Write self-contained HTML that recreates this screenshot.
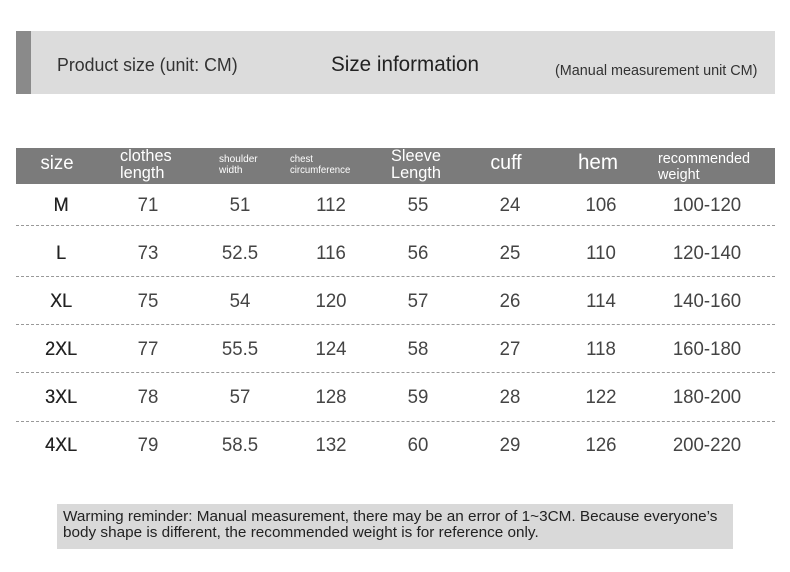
<!DOCTYPE html>
<html><head><style>
body{margin:0;width:790px;height:572px;background:#fff;position:relative;overflow:hidden;font-family:"Liberation Sans",sans-serif;color:#333}
.a{position:absolute;white-space:nowrap}
.c{transform:translateX(-50%) scaleX(0.98);}
.l{transform-origin:0 0;transform:scaleX(0.96)}
.d{font-size:19px;color:#444}
.s{font-size:19px;color:#222;transform:translateX(-50%) scaleX(0.95);text-shadow:0.3px 0 0 #222}
.h{color:#fff}
.line{position:absolute;left:16px;width:759px;border-top:1px dashed #999;height:0}
</style></head><body>
<div class="a" style="left:16px;top:31px;width:759px;height:63px;background:#dcdcdc"></div>
<div class="a" style="left:16px;top:31px;width:15px;height:63px;background:#8a8a8a"></div>
<div class="a l" style="left:57px;top:54px;font-size:18.5px;color:#333">Product size (unit: CM)</div>
<div class="a l" style="left:331px;top:52px;font-size:21.5px;color:#222">Size information</div>
<div class="a l" style="left:555px;top:62px;font-size:15px;color:#333">(Manual measurement unit CM)</div>

<div class="a" style="left:16px;top:148px;width:759px;height:36px;background:#7b7b7b"></div>
<div class="a h c" style="left:57px;top:153px;font-size:19px">size</div>
<div class="a h l" style="left:120px;top:147px;font-size:17px;line-height:17px">clothes<br>length</div>
<div class="a h l" style="left:219px;top:154px;font-size:10.5px;line-height:11px">shoulder<br>width</div>
<div class="a h l" style="left:290px;top:154px;font-size:10px;line-height:11px">chest<br>circumference</div>
<div class="a h l" style="left:391px;top:147px;font-size:17px;line-height:17px">Sleeve<br>Length</div>
<div class="a h c" style="left:506px;top:152px;font-size:20px">cuff</div>
<div class="a h c" style="left:598px;top:151px;font-size:21px">hem</div>
<div class="a h l" style="left:658px;top:151px;font-size:15px;line-height:16px">recommended<br>weight</div>

<div class="line" style="top:225px"></div>
<div class="line" style="top:276px"></div>
<div class="line" style="top:324px"></div>
<div class="line" style="top:372px"></div>
<div class="line" style="top:421px"></div>

<div id="rows"></div>
<script>
var data=[["M",71,51,112,55,24,106,"100-120"],["L",73,52.5,116,56,25,110,"120-140"],["XL",75,54,120,57,26,114,"140-160"],["2XL",77,55.5,124,58,27,118,"160-180"],["3XL",78,57,128,59,28,122,"180-200"],["4XL",79,58.5,132,60,29,126,"200-220"]];
var xs=[61,148,240,331,418,510,601,707];var h="";
data.forEach(function(r,i){var y=195+i*48;r.forEach(function(v,j){h+='<div class="a '+(j==0?'s':'c d')+'" style="left:'+xs[j]+'px;top:'+y+'px">'+v+'</div>';});});
document.getElementById('rows').innerHTML=h;
</script>

<div class="a" style="left:57px;top:504px;width:676px;height:45px;background:#d9d9d9"></div>
<div class="a l" style="left:63px;top:509px;font-size:15px;line-height:16px;color:#222;transform:scaleX(1.02)">Warming reminder: Manual measurement, there may be an error of 1~3CM. Because everyone’s<br>body shape is different, the recommended weight is for reference only.</div>
</body></html>
